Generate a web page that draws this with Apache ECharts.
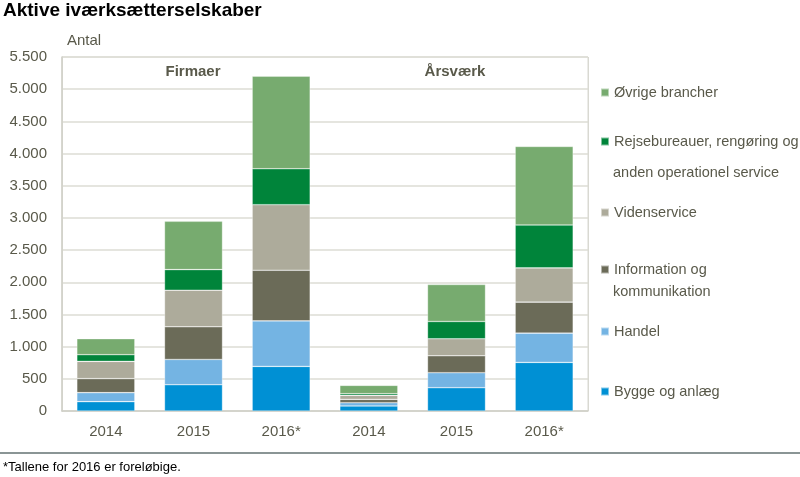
<!DOCTYPE html>
<html>
<head>
<meta charset="utf-8">
<script src="https://cdn.jsdelivr.net/npm/echarts@6/dist/echarts.min.js"></script>
<style>html,body{margin:0;padding:0;background:#fff}#c{width:800px;height:477px}</style>
</head>
<body>
<div id="c"></div>
<script>
var categories = ['2014', '2015', '2016*', '2014', '2015', '2016*'];
var yTicks = {min: 0, max: 5500, step: 500};
var bygge  = [145, 408, 693, 78, 362, 755];
var handel = [140, 393, 708, 51, 233, 455];
var info   = [218, 507, 786, 52, 263, 481];
var viden  = [268, 569, 1018, 62, 264, 532];
var rejse  = [104, 320, 559, 26, 269, 667];
var ovrige = [248, 750, 1437, 129, 574, 1220];

var names = ['Bygge og anlæg', 'Handel', 'Information og kommunikation', 'Videnservice',
  'Rejsebureauer, rengøring og anden operationel service', 'Øvrige brancher'];
var colors = ['#0090d4', '#74b4e3', '#6b6b58', '#adab9b', '#00843a', '#77ab6f'];
var values = [bygge, handel, info, viden, rejse, ovrige];
var legendFirstLine = {
  'Rejsebureauer, rengøring og anden operationel service': 'Rejsebureauer, rengøring og',
  'Information og kommunikation': 'Information og'
};
var legendTops = [392, 332, 270, 213, 142, 93];

var font = 'Liberation Sans, Arial, sans-serif';
var txt = '#59594a';

var chart = echarts.init(document.getElementById('c'), null, {renderer: 'canvas'});

var series = names.map(function (n, i) {
  return {
    name: n, type: 'bar', stack: 'all', barWidth: 58,
    itemStyle: {color: colors[i], borderColor: 'rgba(255,255,255,0.5)', borderWidth: 0.6},
    data: values[i]
  };
});

var legends = names.map(function (n, i) {
  return {
    data: [n], left: 600, top: legendTops[i] - 8, orient: 'vertical',
    icon: 'rect', itemWidth: 8, itemHeight: 8, padding: 0,
    selectedMode: false,
    textStyle: {color: txt, fontSize: 14.5, fontFamily: font},
    formatter: function (name) { return legendFirstLine[name] || name; }
  };
});

chart.setOption({
  animation: false,
  textStyle: {fontFamily: font},
  grid: {left: 62, right: 212, top: 57, bottom: 66, show: true, borderColor: '#d9d9d2', borderWidth: 1},
  legend: legends,
  xAxis: {
    type: 'category', data: categories,
    axisLine: {lineStyle: {color: '#d0d0c8', width: 1.5}},
    axisTick: {show: false},
    axisLabel: {color: txt, fontSize: 15, margin: 13, fontFamily: font},
    splitLine: {show: true, interval: function (idx) { return idx === 3; }, lineStyle: {color: '#d9d9d2', width: 1}}
  },
  yAxis: {
    type: 'value', min: yTicks.min, max: yTicks.max, interval: yTicks.step,
    axisLine: {show: true, lineStyle: {color: '#d0d0c8', width: 1.5}},
    axisTick: {show: false},
    axisLabel: {color: txt, fontSize: 15, margin: 15, fontFamily: font,
      formatter: function (v) { return String(v).replace(/\B(?=(\d{3})+(?!\d))/g, '.'); }},
    splitLine: {lineStyle: {color: '#dcdcd4', width: 1.5}}
  },
  series: series,
  graphic: [
    {type: 'text', left: 3, top: 1, style: {text: 'Aktive iværksætterselskaber', font: 'bold 19px ' + font, fill: '#000'}},
    {type: 'text', left: 67, top: 33, style: {text: 'Antal', font: '15px ' + font, fill: txt}},
    {type: 'text', x: 193, y: 72, style: {text: 'Firmaer', font: 'bold 15px ' + font, fill: txt, align: 'center', verticalAlign: 'middle'}},
    {type: 'text', x: 455, y: 72, style: {text: 'Årsværk', font: 'bold 15px ' + font, fill: txt, align: 'center', verticalAlign: 'middle'}},
    {type: 'text', x: 613, y: 173, style: {text: 'anden operationel service', font: '14.5px ' + font, fill: txt, verticalAlign: 'middle'}},
    {type: 'text', x: 613, y: 292, style: {text: 'kommunikation', font: '14.5px ' + font, fill: txt, verticalAlign: 'middle'}},
    {type: 'line', shape: {x1: 0, y1: 453, x2: 800, y2: 453}, style: {stroke: '#8a9595', lineWidth: 2}},
    {type: 'text', x: 3, y: 467, style: {text: '*Tallene for 2016 er foreløbige.', font: '13px ' + font, fill: '#000', verticalAlign: 'middle'}}
  ]
});
</script>
</body>
</html>
